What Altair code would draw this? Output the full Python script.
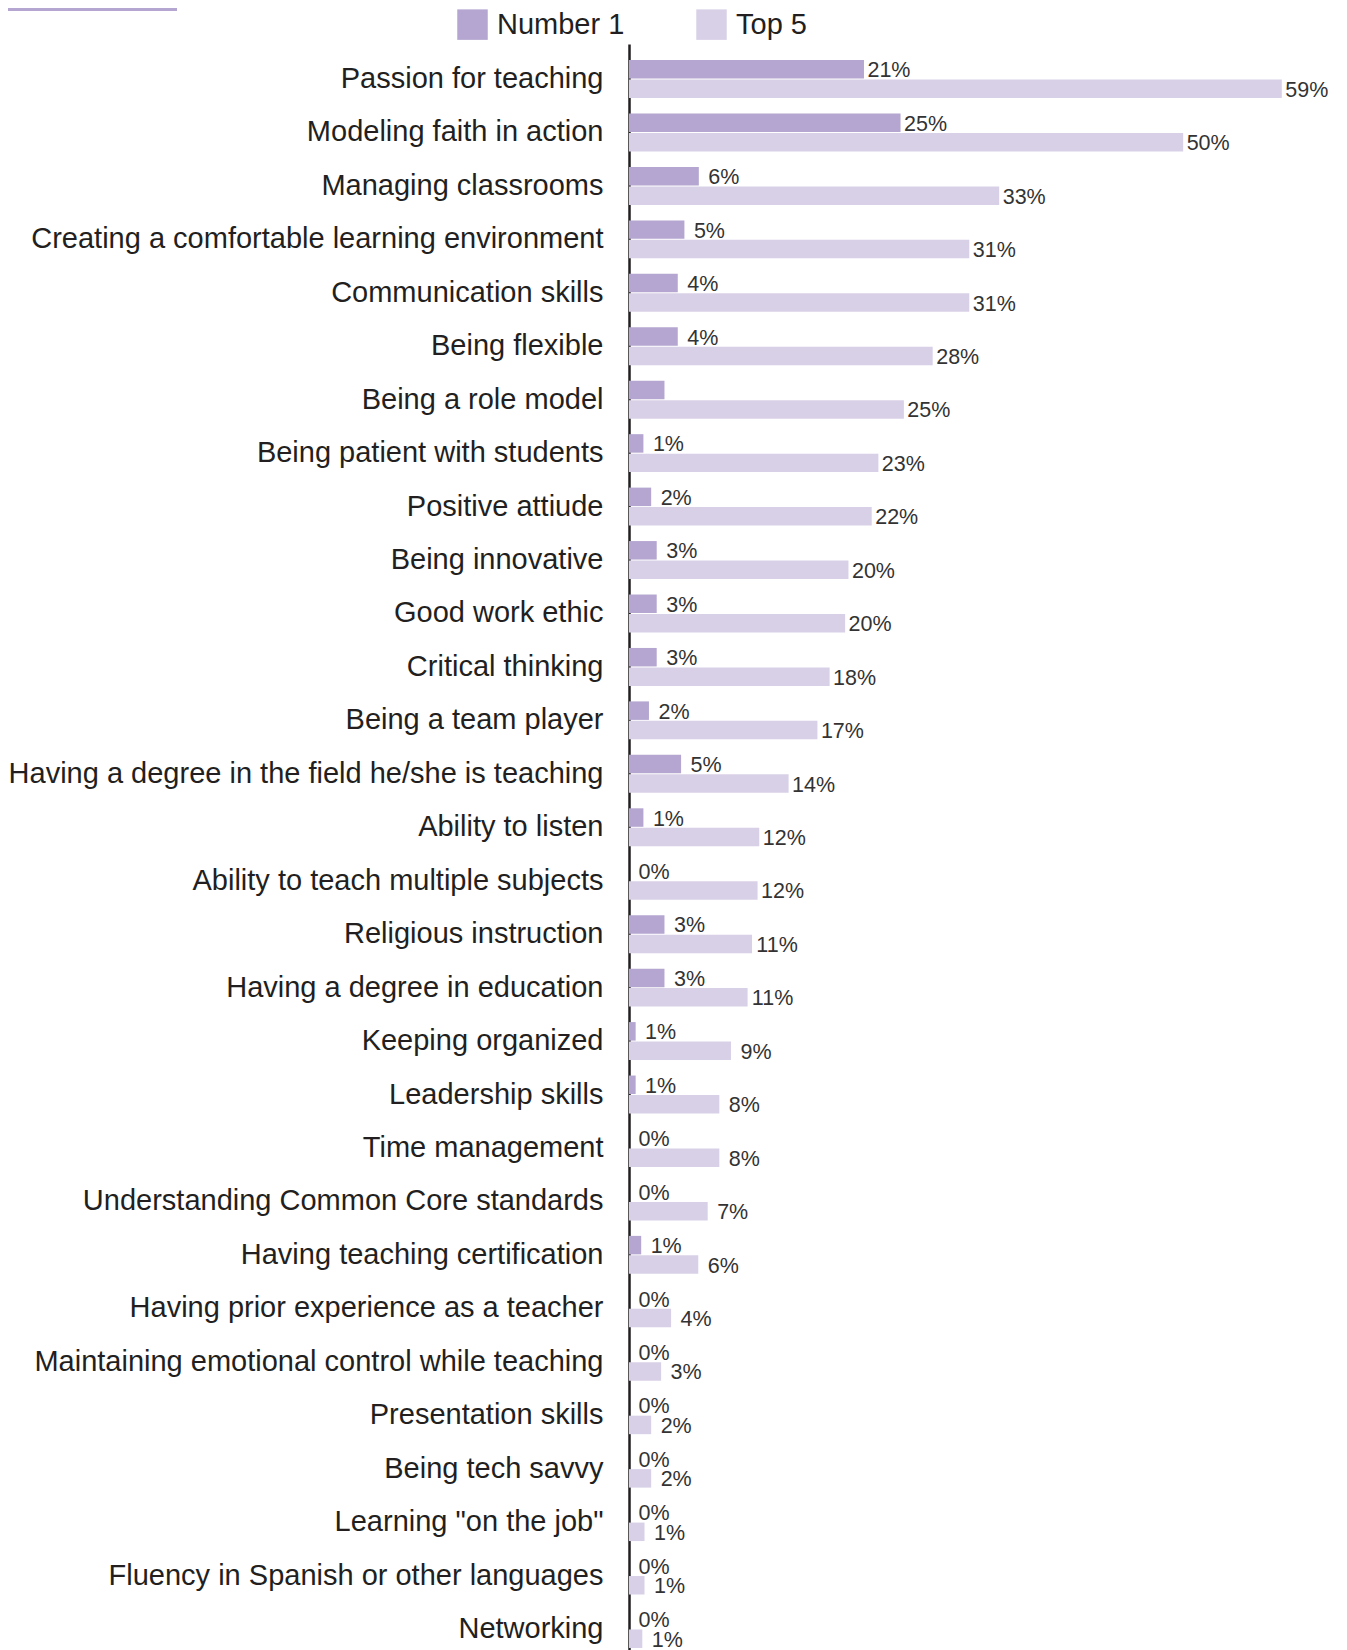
import altair as alt
import pandas as pd

categories = [
    "Passion for teaching",
    "Modeling faith in action",
    "Managing classrooms",
    "Creating a comfortable learning environment",
    "Communication skills",
    "Being flexible",
    "Being a role model",
    "Being patient with students",
    "Positive attiude",
    "Being innovative",
    "Good work ethic",
    "Critical thinking",
    "Being a team player",
    "Having a degree in the field he/she is teaching",
    "Ability to listen",
    "Ability to teach multiple subjects",
    "Religious instruction",
    "Having a degree in education",
    "Keeping organized",
    "Leadership skills",
    "Time management",
    "Understanding Common Core standards",
    "Having teaching certification",
    "Having prior experience as a teacher",
    "Maintaining emotional control while teaching",
    "Presentation skills",
    "Being tech savvy",
    "Learning \"on the job\"",
    "Fluency in Spanish or other languages",
    "Networking",
]

series_names = ["Number 1", "Top 5"]

number1_values = [21.2, 24.5, 6.3, 5, 4.4, 4.4, 3.2, 1.3, 2, 2.5, 2.5, 2.5, 1.8, 4.7, 1.3,
                  0, 3.2, 3.2, 0.6, 0.6, 0, 0, 1.1, 0, 0, 0, 0, 0, 0, 0]
top5_values = [58.9, 50, 33.4, 30.7, 30.7, 27.4, 24.8, 22.5, 21.9, 19.8, 19.5, 18.1, 17, 14.4,
               11.75, 11.6, 11.1, 10.7, 9.2, 8.15, 8.15, 7.1, 6.25, 3.8, 2.9, 2.0, 2.0, 1.4, 1.4, 1.2]

number1_labels = ["21%", "25%", "6%", "5%", "4%", "4%", "", "1%", "2%", "3%", "3%", "3%", "2%",
                  "5%", "1%", "0%", "3%", "3%", "1%", "1%", "0%", "0%", "1%", "0%", "0%", "0%",
                  "0%", "0%", "0%", "0%"]
top5_labels = ["59%", "50%", "33%", "31%", "31%", "28%", "25%", "23%", "22%", "20%", "20%", "18%",
               "17%", "14%", "12%", "12%", "11%", "11%", "9%", "8%", "8%", "7%", "6%", "4%", "3%",
               "2%", "2%", "1%", "1%", "1%"]

rows = []
for i, c in enumerate(categories):
    rows.append({"category": c, "series": series_names[0], "value": number1_values[i], "label": number1_labels[i]})
    rows.append({"category": c, "series": series_names[1], "value": top5_values[i], "label": top5_labels[i]})
df = pd.DataFrame(rows)

FONT = "Liberation Sans"
DARK = "#b4a6d0"
LIGHT = "#d8d0e7"
INK = "#231f20"

y_enc = alt.Y(
    "category:N",
    sort=categories,
    scale=alt.Scale(paddingInner=0.29, paddingOuter=0.30),
    axis=alt.Axis(
        title=None,
        labelFontSize=29,
        labelFont=FONT,
        labelColor=INK,
        labelPadding=26,
        labelLimit=800,
        ticks=False,
        domainColor=INK,
        domainWidth=2.5,
        grid=False,
    ),
)
yoff_enc = alt.YOffset("series:N", sort=series_names, scale=alt.Scale(paddingInner=0.05))
x_enc = alt.X("value:Q", scale=alt.Scale(domain=[0, 60]), axis=None)

base = alt.Chart(df)

bars = base.mark_bar().encode(
    x=x_enc,
    y=y_enc,
    yOffset=yoff_enc,
    color=alt.Color(
        "series:N",
        scale=alt.Scale(domain=series_names, range=[DARK, LIGHT]),
        legend=alt.Legend(
            orient="none",
            legendX=-172,
            legendY=-35,
            direction="horizontal",
            title=None,
            symbolType="square",
            symbolSize=930,
            symbolStrokeWidth=0,
            symbolOpacity=1,
            labelFontSize=29,
            labelFont=FONT,
            labelColor=INK,
            labelOffset=9,
            columnPadding=71,
            padding=0,
        ),
    ),
)

texts = base.mark_text(
    align="center", baseline="middle", dx=25, dy=2, fontSize=21.5, font=FONT, color="#333333"
).encode(
    x=x_enc,
    y=y_enc,
    yOffset=yoff_enc,
    text="label:N",
)

deco = alt.Chart(pd.DataFrame({"k": [0]})).mark_rect(color=DARK).encode(
    x=alt.value(-621), x2=alt.value(-452), y=alt.value(-36), y2=alt.value(-33)
)

chart = (
    alt.layer(bars, texts, deco)
    .properties(
        width=665,
        height=1620,
        autosize=alt.AutoSizeParams(type="none"),
        padding={"left": 621, "top": 36, "right": 40, "bottom": 0},
    )
    .configure_view(stroke=None)
)

chart.save("out.html", embed_options={"renderer": "svg", "actions": False})
